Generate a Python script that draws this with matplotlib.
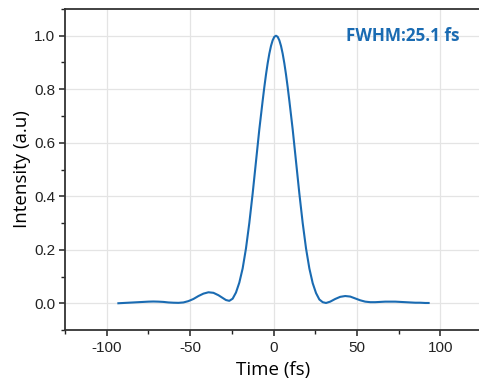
import matplotlib
matplotlib.use("Agg")
import matplotlib.pyplot as plt
from matplotlib.ticker import MultipleLocator

plt.rcParams["font.family"] = ["Liberation Sans", "DejaVu Sans"]
plt.rcParams["axes.unicode_minus"] = False

# pulse profile
time_fs = [-93, -90, -87, -84, -81, -78, -75, -72, -69, -66, -63, -60, -57, -54,
           -51, -48, -45, -42, -39, -36, -33, -30.5, -28.5, -26.5, -24.5, -22.5,
           -20.5, -18.5, -16.5, -14.5, -12.5, -10.5, -8.5, -6.5, -5.5, -4.5,
           -3.5, -2.5, -1.5, -0.5, 0.5, 1.5, 2.5, 3.5, 4.5, 5.5, 6.5, 7.5, 8.5,
           9.5, 11.5, 13.5, 15.5, 17.5, 19.5, 21.5, 23.5, 25.5, 27.5, 29.5, 31.5,
           34, 37, 40, 43, 46, 49, 52, 55, 58, 61, 64, 67, 70, 73, 76, 79, 82,
           85, 88, 91, 93]
intensity = [0.000, 0.001, 0.002, 0.003, 0.004, 0.005, 0.006, 0.0065, 0.006,
             0.005, 0.003, 0.002, 0.0015, 0.003, 0.008, 0.016, 0.027, 0.036,
             0.041, 0.039, 0.030, 0.020, 0.012, 0.009, 0.017, 0.040, 0.077,
             0.130, 0.205, 0.300, 0.410, 0.530, 0.650, 0.757, 0.808, 0.855,
             0.897, 0.933, 0.962, 0.983, 0.996, 1.000, 0.996, 0.983, 0.962,
             0.933, 0.897, 0.855, 0.808, 0.757, 0.650, 0.530, 0.410, 0.300,
             0.205, 0.130, 0.075, 0.038, 0.014, 0.004, 0.001, 0.006, 0.016,
             0.024, 0.027, 0.025, 0.018, 0.011, 0.006, 0.004, 0.004, 0.005,
             0.006, 0.006, 0.006, 0.005, 0.004, 0.003, 0.002, 0.002, 0.001, 0.001]
fwhm_label = "FWHM:25.1 fs"

blue = "#1a6bb2"

fig = plt.figure(figsize=(4.79, 3.87), dpi=100)
ax = fig.add_axes([65 / 479, 57 / 387, 417 / 479, 321 / 387])

ax.plot(time_fs, intensity, color=blue, linewidth=1.5)
ax.set_xlim(-125, 125)
ax.set_ylim(-0.1, 1.1)

ax.xaxis.set_major_locator(MultipleLocator(50))
ax.xaxis.set_minor_locator(MultipleLocator(25))
ax.yaxis.set_minor_locator(MultipleLocator(0.1))
ax.set_yticks([0, 0.2, 0.4, 0.6, 0.8, 1.0], ["0.0", "0.2", "0.4", "0.6", "0.8", "1.0"])
ax.grid(True, which="major", color="#e4e4e4", linewidth=0.9)
ax.set_axisbelow(True)

ax.tick_params(which="major", direction="out", length=4, width=1.1, colors="#222222",
               labelsize=11)
ax.tick_params(axis="x", which="major", pad=4)
ax.tick_params(axis="y", which="major", pad=3)
ax.tick_params(which="minor", direction="out", length=3, width=1.0, colors="#222222")
for name in ax.spines:
    ax.spines[name].set(color="#333333", linewidth=1.3)
ax.spines["right"].set_visible(False)

ax.set_xlabel("Time (fs)", fontsize=13.5, family="Open Sans", labelpad=4)
ax.set_ylabel("Intensity (a.u)", fontsize=13.5, family="Open Sans", labelpad=2)

ax.text(77.5, 1.0, fwhm_label, color=blue, fontsize=12.3, fontweight="bold",
        family="Open Sans", ha="center", va="center")

fig.savefig("out.png", dpi=100)
